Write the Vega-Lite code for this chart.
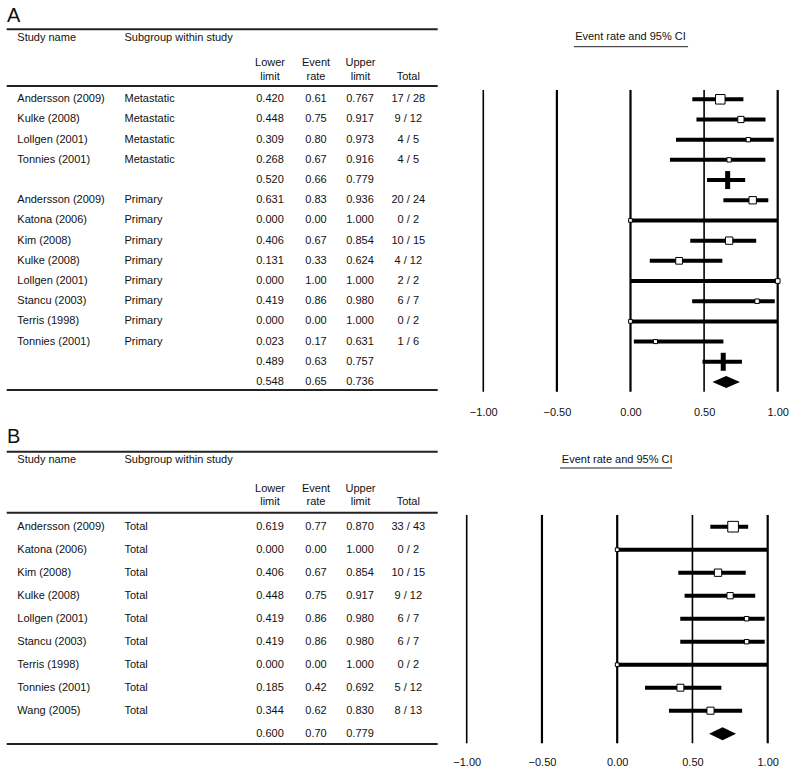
{
  "$schema": "https://vega.github.io/schema/vega-lite/v6.json",
  "padding": 0,
  "bounds": "flush",
  "spacing": 22,
  "config": {"view": {"stroke": null}, "font": "Liberation Sans", "text": {"font": "Liberation Sans", "fontSize": 11, "color": "#111"}},
  "datasets": {
    "a": [
      {"row": 1, "study": "Andersson (2009)", "subgroup": "Metastatic", "lower": 0.420, "rate": 0.61, "upper": 0.767, "total": "17 / 28", "weight": 6.0, "kind": "study"},
      {"row": 2, "study": "Kulke (2008)", "subgroup": "Metastatic", "lower": 0.448, "rate": 0.75, "upper": 0.917, "total": "9 / 12", "weight": 2.25, "kind": "study"},
      {"row": 3, "study": "Lollgen (2001)", "subgroup": "Metastatic", "lower": 0.309, "rate": 0.80, "upper": 0.973, "total": "4 / 5", "weight": 0.8, "kind": "study"},
      {"row": 4, "study": "Tonnies (2001)", "subgroup": "Metastatic", "lower": 0.268, "rate": 0.67, "upper": 0.916, "total": "4 / 5", "weight": 0.8, "kind": "study"},
      {"row": 5, "study": "", "subgroup": "", "lower": 0.520, "rate": 0.66, "upper": 0.779, "total": "", "weight": 0, "kind": "sub"},
      {"row": 6, "study": "Andersson (2009)", "subgroup": "Primary", "lower": 0.631, "rate": 0.83, "upper": 0.936, "total": "20 / 24", "weight": 3.33, "kind": "study"},
      {"row": 7, "study": "Katona (2006)", "subgroup": "Primary", "lower": 0.000, "rate": 0.00, "upper": 1.000, "total": "0 / 2", "weight": 0.42, "kind": "study"},
      {"row": 8, "study": "Kim (2008)", "subgroup": "Primary", "lower": 0.406, "rate": 0.67, "upper": 0.854, "total": "10 / 15", "weight": 3.33, "kind": "study"},
      {"row": 9, "study": "Kulke (2008)", "subgroup": "Primary", "lower": 0.131, "rate": 0.33, "upper": 0.624, "total": "4 / 12", "weight": 2.67, "kind": "study"},
      {"row": 10, "study": "Lollgen (2001)", "subgroup": "Primary", "lower": 0.000, "rate": 1.00, "upper": 1.000, "total": "2 / 2", "weight": 1.0, "kind": "study"},
      {"row": 11, "study": "Stancu (2003)", "subgroup": "Primary", "lower": 0.419, "rate": 0.86, "upper": 0.980, "total": "6 / 7", "weight": 0.86, "kind": "study"},
      {"row": 12, "study": "Terris (1998)", "subgroup": "Primary", "lower": 0.000, "rate": 0.00, "upper": 1.000, "total": "0 / 2", "weight": 0.42, "kind": "study"},
      {"row": 13, "study": "Tonnies (2001)", "subgroup": "Primary", "lower": 0.023, "rate": 0.17, "upper": 0.631, "total": "1 / 6", "weight": 0.6, "kind": "study"},
      {"row": 14, "study": "", "subgroup": "", "lower": 0.489, "rate": 0.63, "upper": 0.757, "total": "", "weight": 0, "kind": "sub"},
      {"row": 15, "study": "", "subgroup": "", "lower": 0.548, "rate": 0.65, "upper": 0.736, "total": "", "weight": 0, "kind": "all"}
    ],
    "b": [
      {"row": 1, "study": "Andersson (2009)", "subgroup": "Total", "lower": 0.619, "rate": 0.77, "upper": 0.870, "total": "33 / 43", "weight": 7.67, "kind": "study"},
      {"row": 2, "study": "Katona (2006)", "subgroup": "Total", "lower": 0.000, "rate": 0.00, "upper": 1.000, "total": "0 / 2", "weight": 0.42, "kind": "study"},
      {"row": 3, "study": "Kim (2008)", "subgroup": "Total", "lower": 0.406, "rate": 0.67, "upper": 0.854, "total": "10 / 15", "weight": 3.33, "kind": "study"},
      {"row": 4, "study": "Kulke (2008)", "subgroup": "Total", "lower": 0.448, "rate": 0.75, "upper": 0.917, "total": "9 / 12", "weight": 2.25, "kind": "study"},
      {"row": 5, "study": "Lollgen (2001)", "subgroup": "Total", "lower": 0.419, "rate": 0.86, "upper": 0.980, "total": "6 / 7", "weight": 0.86, "kind": "study"},
      {"row": 6, "study": "Stancu (2003)", "subgroup": "Total", "lower": 0.419, "rate": 0.86, "upper": 0.980, "total": "6 / 7", "weight": 0.86, "kind": "study"},
      {"row": 7, "study": "Terris (1998)", "subgroup": "Total", "lower": 0.000, "rate": 0.00, "upper": 1.000, "total": "0 / 2", "weight": 0.42, "kind": "study"},
      {"row": 8, "study": "Tonnies (2001)", "subgroup": "Total", "lower": 0.185, "rate": 0.42, "upper": 0.692, "total": "5 / 12", "weight": 2.92, "kind": "study"},
      {"row": 9, "study": "Wang (2005)", "subgroup": "Total", "lower": 0.344, "rate": 0.62, "upper": 0.830, "total": "8 / 13", "weight": 3.08, "kind": "study"},
      {"row": 10, "study": "", "subgroup": "", "lower": 0.600, "rate": 0.70, "upper": 0.779, "total": "", "weight": 0, "kind": "all"}
    ],
    "ticks": [{"v": -1}, {"v": -0.5}, {"v": 0}, {"v": 0.5}, {"v": 1}],
    "one": [{"k": 1}]
  },
  "vconcat": [
    {
      "width": 795, "height": 398,
      "resolve": {"scale": {"x": "independent"}},
      "layer": [
        {
          "layer": [
            {"data": {"name": "one"}, "mark": {"type": "text", "text": "A", "fontSize": 20, "align": "left", "baseline": "middle"},
             "encoding": {"x": {"datum": 7, "type": "quantitative", "scale": {"domain": [0, 795], "nice": false, "zero": false}, "axis": null},
                          "y": {"datum": -3.15, "type": "quantitative", "scale": {"domain": [-3.918, 15.794], "reverse": true, "nice": false, "zero": false}, "axis": null}}},
            {"data": {"name": "one"}, "mark": {"type": "rule", "strokeWidth": 2, "color": "#222"},
             "encoding": {"x": {"datum": 6.7, "type": "quantitative"}, "x2": {"datum": 437.7}, "y": {"datum": -2.467, "type": "quantitative"}}},
            {"data": {"name": "one"}, "mark": {"type": "rule", "strokeWidth": 2, "color": "#222"},
             "encoding": {"x": {"datum": 6.7, "type": "quantitative"}, "x2": {"datum": 437.7}, "y": {"datum": 0.341, "type": "quantitative"}}},
            {"data": {"name": "one"}, "mark": {"type": "rule", "strokeWidth": 2, "color": "#222"},
             "encoding": {"x": {"datum": 6.7, "type": "quantitative"}, "x2": {"datum": 437.7}, "y": {"datum": 15.4, "type": "quantitative"}}},
            {"data": {"name": "one"}, "mark": {"type": "text", "text": "Study name", "align": "left", "baseline": "middle"},
             "encoding": {"x": {"datum": 17.3, "type": "quantitative"}, "y": {"datum": -2.04, "type": "quantitative"}}},
            {"data": {"name": "one"}, "mark": {"type": "text", "text": "Subgroup within study", "align": "left", "baseline": "middle"},
             "encoding": {"x": {"datum": 124.5, "type": "quantitative"}, "y": {"datum": -2.04, "type": "quantitative"}}},
            {"data": {"name": "one"}, "mark": {"type": "text", "text": ["Lower", "limit"], "lineHeight": 13.4, "align": "center", "baseline": "middle"},
             "encoding": {"x": {"datum": 270, "type": "quantitative"}, "y": {"datum": -0.783, "type": "quantitative"}}},
            {"data": {"name": "one"}, "mark": {"type": "text", "text": ["Event", "rate"], "lineHeight": 13.4, "align": "center", "baseline": "middle"},
             "encoding": {"x": {"datum": 316, "type": "quantitative"}, "y": {"datum": -0.783, "type": "quantitative"}}},
            {"data": {"name": "one"}, "mark": {"type": "text", "text": ["Upper", "limit"], "lineHeight": 13.4, "align": "center", "baseline": "middle"},
             "encoding": {"x": {"datum": 360.5, "type": "quantitative"}, "y": {"datum": -0.783, "type": "quantitative"}}},
            {"data": {"name": "one"}, "mark": {"type": "text", "text": "Total", "align": "center", "baseline": "middle"},
             "encoding": {"x": {"datum": 408.3, "type": "quantitative"}, "y": {"datum": -0.119, "type": "quantitative"}}},
            {"data": {"name": "a"}, "mark": {"type": "text", "align": "left", "baseline": "middle"},
             "encoding": {"x": {"datum": 17.3, "type": "quantitative"}, "y": {"field": "row", "type": "quantitative"}, "text": {"field": "study"}}},
            {"data": {"name": "a"}, "mark": {"type": "text", "align": "left", "baseline": "middle"},
             "encoding": {"x": {"datum": 124.5, "type": "quantitative"}, "y": {"field": "row", "type": "quantitative"}, "text": {"field": "subgroup"}}},
            {"data": {"name": "a"}, "mark": {"type": "text", "align": "center", "baseline": "middle"},
             "encoding": {"x": {"datum": 270, "type": "quantitative"}, "y": {"field": "row", "type": "quantitative"}, "text": {"field": "lower", "type": "quantitative", "format": ".3f"}}},
            {"data": {"name": "a"}, "mark": {"type": "text", "align": "center", "baseline": "middle"},
             "encoding": {"x": {"datum": 316, "type": "quantitative"}, "y": {"field": "row", "type": "quantitative"}, "text": {"field": "rate", "type": "quantitative", "format": ".2f"}}},
            {"data": {"name": "a"}, "mark": {"type": "text", "align": "center", "baseline": "middle"},
             "encoding": {"x": {"datum": 360, "type": "quantitative"}, "y": {"field": "row", "type": "quantitative"}, "text": {"field": "upper", "type": "quantitative", "format": ".3f"}}},
            {"data": {"name": "a"}, "mark": {"type": "text", "align": "center", "baseline": "middle"},
             "encoding": {"x": {"datum": 408.3, "type": "quantitative"}, "y": {"field": "row", "type": "quantitative"}, "text": {"field": "total"}}}
          ]
        },
        {
          "layer": [
            {"data": {"name": "ticks"}, "mark": {"type": "rule", "color": "#000"},
             "encoding": {
               "x": {"field": "v", "type": "quantitative", "scale": {"domain": [-4.283, 1.1175], "nice": false, "zero": false},
                     "axis": {"orient": "bottom", "values": [-1, -0.5, 0, 0.5, 1], "format": ".2f", "domain": false, "ticks": false, "grid": false, "title": null, "labelFont": "Liberation Sans", "labelFontSize": 11, "labelColor": "#111", "labelPadding": 8, "labelFlush": false}},
               "y": {"datum": 0.54, "type": "quantitative"}, "y2": {"datum": 15.48},
               "strokeWidth": {"condition": {"test": "datum.v == -1 || datum.v == 0.5", "value": 1.6}, "value": 2.2}}},
            {"data": {"name": "one"}, "mark": {"type": "text", "text": "Event rate and 95% CI", "align": "center", "baseline": "middle"},
             "encoding": {"x": {"datum": 0, "type": "quantitative"}, "y": {"datum": -2.07, "type": "quantitative"}}},
            {"data": {"name": "one"}, "mark": {"type": "rule", "strokeWidth": 1, "color": "#222"},
             "encoding": {"x": {"datum": -0.384, "type": "quantitative"}, "x2": {"datum": 0.391}, "y": {"datum": -1.605, "type": "quantitative"}}},
            {"data": {"name": "a"}, "transform": [{"filter": "datum.kind != 'all'"}], "mark": {"type": "rule", "strokeWidth": 4, "color": "#000"},
             "encoding": {"x": {"field": "lower", "type": "quantitative"}, "x2": {"field": "upper"}, "y": {"field": "row", "type": "quantitative"}}},
            {"data": {"name": "a"}, "transform": [{"filter": "datum.kind == 'sub'"}], "mark": {"type": "point", "shape": "M0,-1L0,1", "size": 324, "filled": false, "stroke": "#000", "strokeWidth": 5, "opacity": 1},
             "encoding": {"x": {"field": "rate", "type": "quantitative"}, "y": {"field": "row", "type": "quantitative"}}},
            {"data": {"name": "a"}, "transform": [{"filter": "datum.kind == 'all'"}], "mark": {"type": "point", "shape": "M-1,0L0,-0.44L1,0L0,0.44Z", "size": 756, "filled": true, "fill": "#000", "strokeWidth": 0, "opacity": 1},
             "encoding": {"x": {"field": "rate", "type": "quantitative"}, "y": {"field": "row", "type": "quantitative"}}},
            {"data": {"name": "a"}, "transform": [{"filter": "datum.kind == 'study'"}], "mark": {"type": "point", "shape": "square", "filled": true, "fill": "#fff", "stroke": "#000", "strokeWidth": 1, "opacity": 1},
             "encoding": {"x": {"field": "rate", "type": "quantitative"}, "y": {"field": "row", "type": "quantitative"},
                          "size": {"field": "weight", "type": "quantitative", "scale": {"domain": [0, 8], "range": [8, 118]}, "legend": null}}}
          ]
        }
      ]
    },
    {
      "width": 795, "height": 328,
      "resolve": {"scale": {"x": "independent"}},
      "layer": [
        {
          "layer": [
            {"data": {"name": "one"}, "mark": {"type": "text", "text": "B", "fontSize": 20, "align": "left", "baseline": "middle"},
             "encoding": {"x": {"datum": 7, "type": "quantitative", "scale": {"domain": [0, 795], "nice": false, "zero": false}, "axis": null},
                          "y": {"datum": -2.9, "type": "quantitative", "scale": {"domain": [-3.639, 10.622], "reverse": true, "nice": false, "zero": false}, "axis": null}}},
            {"data": {"name": "one"}, "mark": {"type": "rule", "strokeWidth": 2, "color": "#222"},
             "encoding": {"x": {"datum": 6.7, "type": "quantitative"}, "x2": {"datum": 437.7}, "y": {"datum": -2.26, "type": "quantitative"}}},
            {"data": {"name": "one"}, "mark": {"type": "rule", "strokeWidth": 2, "color": "#222"},
             "encoding": {"x": {"datum": 6.7, "type": "quantitative"}, "x2": {"datum": 437.7}, "y": {"datum": 0.391, "type": "quantitative"}}},
            {"data": {"name": "one"}, "mark": {"type": "rule", "strokeWidth": 2, "color": "#222"},
             "encoding": {"x": {"datum": 6.7, "type": "quantitative"}, "x2": {"datum": 437.7}, "y": {"datum": 10.448, "type": "quantitative"}}},
            {"data": {"name": "one"}, "mark": {"type": "text", "text": "Study name", "align": "left", "baseline": "middle"},
             "encoding": {"x": {"datum": 17.3, "type": "quantitative"}, "y": {"datum": -1.9, "type": "quantitative"}}},
            {"data": {"name": "one"}, "mark": {"type": "text", "text": "Subgroup within study", "align": "left", "baseline": "middle"},
             "encoding": {"x": {"datum": 124.5, "type": "quantitative"}, "y": {"datum": -1.9, "type": "quantitative"}}},
            {"data": {"name": "one"}, "mark": {"type": "text", "text": ["Lower", "limit"], "lineHeight": 12.6, "align": "center", "baseline": "middle"},
             "encoding": {"x": {"datum": 270, "type": "quantitative"}, "y": {"datum": -0.626, "type": "quantitative"}}},
            {"data": {"name": "one"}, "mark": {"type": "text", "text": ["Event", "rate"], "lineHeight": 12.6, "align": "center", "baseline": "middle"},
             "encoding": {"x": {"datum": 316, "type": "quantitative"}, "y": {"datum": -0.626, "type": "quantitative"}}},
            {"data": {"name": "one"}, "mark": {"type": "text", "text": ["Upper", "limit"], "lineHeight": 12.6, "align": "center", "baseline": "middle"},
             "encoding": {"x": {"datum": 360.5, "type": "quantitative"}, "y": {"datum": -0.626, "type": "quantitative"}}},
            {"data": {"name": "one"}, "mark": {"type": "text", "text": "Total", "align": "center", "baseline": "middle"},
             "encoding": {"x": {"datum": 408.3, "type": "quantitative"}, "y": {"datum": -0.087, "type": "quantitative"}}},
            {"data": {"name": "b"}, "mark": {"type": "text", "align": "left", "baseline": "middle"},
             "encoding": {"x": {"datum": 17.3, "type": "quantitative"}, "y": {"field": "row", "type": "quantitative"}, "text": {"field": "study"}}},
            {"data": {"name": "b"}, "mark": {"type": "text", "align": "left", "baseline": "middle"},
             "encoding": {"x": {"datum": 124.5, "type": "quantitative"}, "y": {"field": "row", "type": "quantitative"}, "text": {"field": "subgroup"}}},
            {"data": {"name": "b"}, "mark": {"type": "text", "align": "center", "baseline": "middle"},
             "encoding": {"x": {"datum": 270, "type": "quantitative"}, "y": {"field": "row", "type": "quantitative"}, "text": {"field": "lower", "type": "quantitative", "format": ".3f"}}},
            {"data": {"name": "b"}, "mark": {"type": "text", "align": "center", "baseline": "middle"},
             "encoding": {"x": {"datum": 316, "type": "quantitative"}, "y": {"field": "row", "type": "quantitative"}, "text": {"field": "rate", "type": "quantitative", "format": ".2f"}}},
            {"data": {"name": "b"}, "mark": {"type": "text", "align": "center", "baseline": "middle"},
             "encoding": {"x": {"datum": 360, "type": "quantitative"}, "y": {"field": "row", "type": "quantitative"}, "text": {"field": "upper", "type": "quantitative", "format": ".3f"}}},
            {"data": {"name": "b"}, "mark": {"type": "text", "align": "center", "baseline": "middle"},
             "encoding": {"x": {"datum": 408.3, "type": "quantitative"}, "y": {"field": "row", "type": "quantitative"}, "text": {"field": "total"}}}
          ]
        },
        {
          "layer": [
            {"data": {"name": "ticks"}, "mark": {"type": "rule", "color": "#000"},
             "encoding": {
               "x": {"field": "v", "type": "quantitative", "scale": {"domain": [-4.101, 1.1814], "nice": false, "zero": false},
                     "axis": {"orient": "bottom", "values": [-1, -0.5, 0, 0.5, 1], "format": ".2f", "domain": false, "ticks": false, "grid": false, "title": null, "labelFont": "Liberation Sans", "labelFontSize": 11, "labelColor": "#111", "labelPadding": 8, "labelFlush": false}},
               "y": {"datum": 0.491, "type": "quantitative"}, "y2": {"datum": 10.417},
               "strokeWidth": {"condition": {"test": "datum.v == -1 || datum.v == 0.5", "value": 1.6}, "value": 2.2}}},
            {"data": {"name": "one"}, "mark": {"type": "text", "text": "Event rate and 95% CI", "align": "center", "baseline": "middle"},
             "encoding": {"x": {"datum": 0, "type": "quantitative"}, "y": {"datum": -1.9, "type": "quantitative"}}},
            {"data": {"name": "one"}, "mark": {"type": "rule", "strokeWidth": 1, "color": "#222"},
             "encoding": {"x": {"datum": -0.38, "type": "quantitative"}, "x2": {"datum": 0.364}, "y": {"datum": -1.552, "type": "quantitative"}}},
            {"data": {"name": "b"}, "transform": [{"filter": "datum.kind != 'all'"}], "mark": {"type": "rule", "strokeWidth": 4, "color": "#000"},
             "encoding": {"x": {"field": "lower", "type": "quantitative"}, "x2": {"field": "upper"}, "y": {"field": "row", "type": "quantitative"}}},
            {"data": {"name": "b"}, "transform": [{"filter": "datum.kind == 'all'"}], "mark": {"type": "point", "shape": "M-1,0L0,-0.48L1,0L0,0.48Z", "size": 729, "filled": true, "fill": "#000", "strokeWidth": 0, "opacity": 1},
             "encoding": {"x": {"field": "rate", "type": "quantitative"}, "y": {"field": "row", "type": "quantitative"}}},
            {"data": {"name": "b"}, "transform": [{"filter": "datum.kind == 'study'"}], "mark": {"type": "point", "shape": "square", "filled": true, "fill": "#fff", "stroke": "#000", "strokeWidth": 1, "opacity": 1},
             "encoding": {"x": {"field": "rate", "type": "quantitative"}, "y": {"field": "row", "type": "quantitative"},
                          "size": {"field": "weight", "type": "quantitative", "scale": {"domain": [0, 8], "range": [8, 118]}, "legend": null}}}
          ]
        }
      ]
    }
  ]
}
